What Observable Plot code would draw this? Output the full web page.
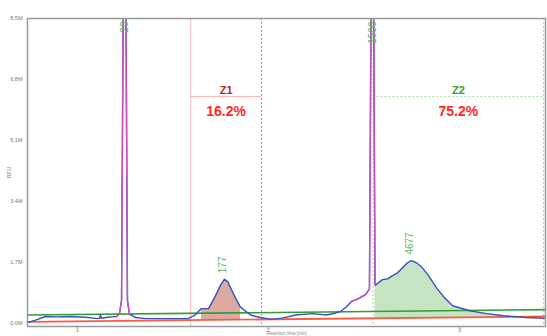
<!DOCTYPE html>
<html>
<head>
<meta charset="utf-8">
<script src="https://cdn.jsdelivr.net/npm/d3@7"></script>
<script src="https://cdn.jsdelivr.net/npm/@observablehq/plot@0.6"></script>
<style>
  html, body { margin: 0; padding: 0; background: #fff; }
  #chart svg { display: block; }
</style>
</head>
<body>
<div id="chart"></div>
<script>
// Chromatogram trace: retention time (min) and signal (million RFU)
const traceX = [0.740, 0.782, 0.834, 0.890, 0.960, 1.043, 1.106, 1.117, 1.122, 1.127, 1.160, 1.185,
  1.206, 1.221, 1.232, 1.248, 1.263, 1.274, 1.285, 1.305, 1.357, 1.436, 1.520, 1.580, 1.614, 1.650,
  1.687, 1.708, 1.734, 1.750, 1.771, 1.789, 1.807, 1.828, 1.854, 1.907, 1.959, 2.017, 2.079, 2.142,
  2.231, 2.304, 2.346, 2.378, 2.409, 2.435, 2.472, 2.508, 2.529, 2.545, 2.558, 2.576, 2.597, 2.624,
  2.650, 2.676, 2.702, 2.728, 2.749, 2.775, 2.801, 2.838, 2.880, 2.922, 2.964, 3.053, 3.142, 3.230,
  3.345, 3.450];
const traceY = [0.01, 0.08, 0.18, 0.17, 0.18, 0.16, 0.12, 0.13, 0.22, 0.13, 0.16, 0.17,
  0.18, 0.26, 0.62, 16.0, 0.62, 0.23, 0.22, 0.15, 0.12, 0.12, 0.12, 0.12, 0.21, 0.40,
  0.40, 0.60, 0.87, 1.06, 1.22, 1.14, 0.93, 0.70, 0.44, 0.22, 0.15, 0.10, 0.14, 0.22,
  0.26, 0.22, 0.27, 0.32, 0.45, 0.60, 0.68, 0.79, 0.95, 16.0, 1.05, 1.12, 1.21, 1.23,
  1.32, 1.40, 1.54, 1.68, 1.74, 1.68, 1.57, 1.32, 0.98, 0.70, 0.48, 0.34, 0.26, 0.20,
  0.15, 0.13];

// Retention-time windows of the two sharp peaks (highlighted trace)
const peakWindows = [[1.200, 1.280], [2.420, 2.560]];

// Baselines (start / end points)
const baseX = [0.74, 3.45];
const redBaseY = [0.03, 0.18];
const greenBaseY = [0.22, 0.37];

// Integration zones and the integrated part of each
const zoneNames = ["Z1", "Z2"];
const zoneStart = [1.594, 2.548];
const zoneEnd = [1.964, 3.440];
const fillStart = [1.640, 2.548];
const fillEnd = [1.880, 3.440];
const zoneLevel = [6.32, 6.32];
const zoneShare = ["16.2%", "75.2%"];

// Peak annotations
const peakX = [1.248, 2.546, 1.771, 2.749];
const peakY = [null, null, 1.22, 1.74];
const peakLabels = ["20", "1500", "177", "4677"];

// Axis ticks
const xTicks = [1, 2, 3];
const yTicks = [0, 1.7, 3.4, 5.1, 6.8, 8.5];

const trace = traceX.map((x, i) => ({x, y: traceY[i]}));
const baseAt = (x) => redBaseY[0] + (x - baseX[0]) / (baseX[1] - baseX[0]) * (redBaseY[1] - redBaseY[0]);
const redBase = baseX.map((x, i) => ({x, y: redBaseY[i]}));
const greenBase = baseX.map((x, i) => ({x, y: greenBaseY[i]}));
const zones = zoneNames.map((name, i) => ({
  name, x1: zoneStart[i], x2: zoneEnd[i], f1: fillStart[i], f2: fillEnd[i],
  y: zoneLevel[i], share: zoneShare[i], mid: (zoneStart[i] + zoneEnd[i]) / 2
}));
const peaks = peakX.map((x, i) => ({x, y: peakY[i], label: peakLabels[i]}));

// Area under the trace above the red baseline, skipping the off-scale spike
function zoneArea(z) {
  const pts = trace.filter(d => d.x >= z.f1 && d.x <= z.f2 && d.y < 8);
  return pts.map(d => ({x: d.x, y1: baseAt(d.x), y2: Math.max(d.y, baseAt(d.x))}));
}

const z1 = zones[0], z2 = zones[1];

const chart = Plot.plot({
  width: 547,
  height: 336,
  marginLeft: 27,
  marginRight: 2,
  marginTop: 18,
  marginBottom: 10,
  x: {domain: [0.74, 3.45]},
  y: {domain: [-0.1, 8.5]},
  style: {fontFamily: "Liberation Sans, Arial, sans-serif", background: "#fff", overflow: "hidden"},
  marks: [
    // integrated areas
    Plot.areaY(zoneArea(z1), {x: "x", y1: "y1", y2: "y2", fill: "#dcaaa0"}),
    Plot.areaY(zoneArea(z2), {x: "x", y1: "y1", y2: "y2", fill: "#c6e4c4"}),

    // zone boundaries
    Plot.ruleX([z1.x1], {stroke: "#f3a3a3", strokeWidth: 0.8}),
    Plot.ruleX([z1.x2], {stroke: "#e25555", strokeWidth: 0.8, strokeDasharray: "2,2"}),
    Plot.ruleX([z2.x1, z2.x2], {stroke: "#8fd18f", strokeWidth: 0.8, strokeDasharray: "2,2"}),
    Plot.ruleY([z1], {x1: "x1", x2: "x2", y: "y", stroke: "#f3a3a3", strokeWidth: 0.8}),
    Plot.ruleY([z2], {x1: (d) => d.x1 + 0.02, x2: "x2", y: "y", stroke: "#8fd18f", strokeWidth: 0.8, strokeDasharray: "2,2"}),

    // baselines
    Plot.line(greenBase, {x: "x", y: "y", stroke: "#2e9e35", strokeWidth: 1.6}),
    Plot.line(redBase, {x: "x", y: "y", stroke: "#ff5a3c", strokeWidth: 1.8}),

    // trace
    Plot.line(trace, {x: "x", y: "y", stroke: "#3552c4", strokeWidth: 1.4, clip: true}),
    ...peakWindows.map(([a, b]) =>
      Plot.line(trace.filter(d => d.x >= a && d.x <= b), {x: "x", y: "y", stroke: "#cc4fc0", strokeWidth: 1.4, clip: true})
    ),

    // peak labels (read bottom to top)
    Plot.text(peaks.filter(d => d.y == null), {x: "x", frameAnchor: "top", text: "label", rotate: -90, textAnchor: "end", dx: -4, dy: 3, fill: "#5cb85c", fontSize: 10}),
    Plot.text(peaks.filter(d => d.y != null), {x: "x", y: "y", text: "label", rotate: -90, textAnchor: "start", dx: -2, dy: -6, fill: "#5cb85c", fontSize: 10}),

    // zone labels
    Plot.text(zones, {x: "mid", y: "y", text: "name", dy: -6, fill: (d) => d.name === "Z1" ? "#b22a22" : "#3a9a3a", fontWeight: "bold", fontSize: 11}),
    Plot.text(zones, {x: "mid", y: "y", text: "share", dy: 15, fill: "#ff2a1f", fontWeight: "bold", fontSize: 14}),

    // axes and frame
    Plot.axisY(yTicks, {tickFormat: (d) => d.toFixed(1) + "M", fontSize: 5.5, fill: "#777", tickSize: 0, tickPadding: 5, label: "RFU", labelAnchor: "center", labelOffset: 20, labelArrow: "none"}),
    Plot.axisX(xTicks, {tickFormat: (d) => String(d), fontSize: 5.5, fill: "#777", stroke: "#999", tickSize: 2, tickPadding: 0, label: null}),
    Plot.text(["Retention time [min]"], {frameAnchor: "bottom", dy: 8.5, fill: "#888", fontSize: 4.5}),
    Plot.frame({stroke: "#9a9a9a", strokeWidth: 1.5})
  ]
});

document.getElementById("chart").appendChild(chart);
</script>
</body>
</html>
